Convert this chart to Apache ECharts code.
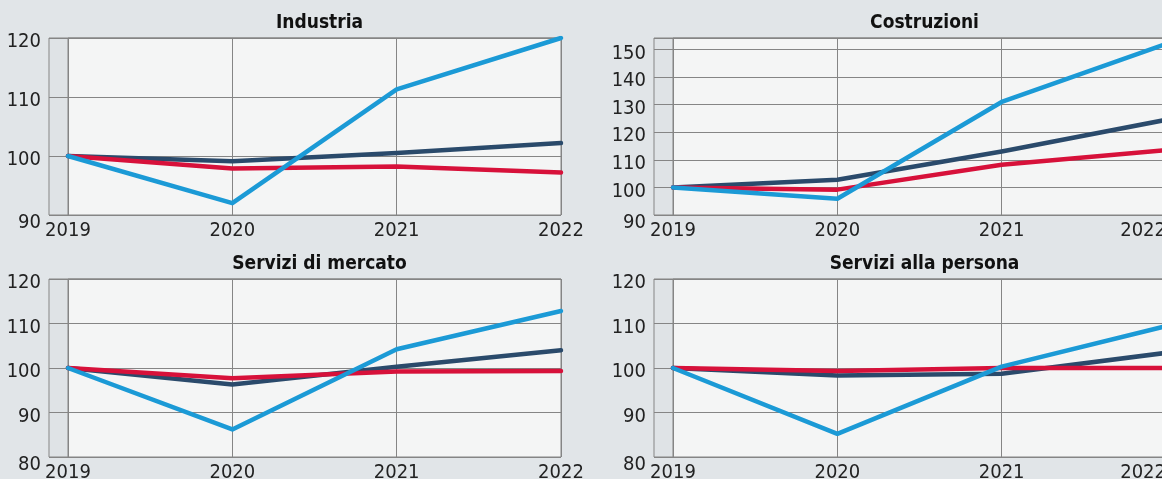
<!DOCTYPE html>
<html><head><meta charset="utf-8">
<script src="https://cdn.jsdelivr.net/npm/echarts@6/dist/echarts.min.js"></script>
<style>html,body{margin:0;padding:0;background:#e1e5e8;} #c{width:1162px;height:479px;}</style>
</head><body><div id="c"></div>
<script>
// ---- data ----
const years = ['2019', '2020', '2021', '2022'];
const titles = ['Industria', 'Costruzioni', 'Servizi di mercato', 'Servizi alla persona'];
const industriaDark = [100, 99.1, 100.5, 102.2];
const industriaRed = [100, 97.9, 98.2, 97.2];
const industriaBlue = [100, 92.0, 111.3, 120.0];
const costruzioniDark = [100, 102.8, 113.0, 124.5];
const costruzioniRed = [100, 99.2, 108.2, 113.5];
const costruzioniBlue = [100, 95.9, 131.0, 152.0];
const mercatoDark = [100, 96.3, 100.3, 104.0];
const mercatoRed = [100, 97.7, 99.2, 99.3];
const mercatoBlue = [100, 86.2, 104.2, 112.8];
const personaDark = [100, 98.3, 98.7, 103.4];
const personaRed = [100, 99.3, 100.0, 100.0];
const personaBlue = [100, 85.2, 100.3, 109.4];
const yMins = [90, 90, 80, 80];
const yMaxs = [120, 154.2, 120, 120];
const yStep = 10;

const panelData = [
  [industriaDark, industriaRed, industriaBlue],
  [costruzioniDark, costruzioniRed, costruzioniBlue],
  [mercatoDark, mercatoRed, mercatoBlue],
  [personaDark, personaRed, personaBlue]
];
const seriesNames = ['Serie 1', 'Serie 2', 'Serie 3'];
const seriesColors = ['#2a4a6b', '#d7113a', '#1b9ad6'];

// ---- layout / style ----
const FONT = "'Liberation Sans Narrow', 'DejaVu Sans Condensed', 'Roboto Condensed', sans-serif";
const layout = [
  { outerL: 49, innerL: 68, top: 38, h: 177, w: 493, titleTop: 9, right: false },
  { outerL: 654, innerL: 673, top: 38, h: 177, w: 493, titleTop: 9, right: true },
  { outerL: 49, innerL: 68, top: 279, h: 178, w: 493, titleTop: 250, right: false },
  { outerL: 654, innerL: 673, top: 279, h: 178, w: 493, titleTop: 250, right: true }
];
const GRID_C = '#858585';

const grid = [], xAxis = [], yAxis = [], series = [], title = [];
layout.forEach((L, p) => {
  const o = 2 * p, i = 2 * p + 1;
  grid.push({ left: L.outerL, top: L.top, width: L.innerL + L.w - L.outerL, height: L.h,
    outerBoundsMode: 'none', containLabel: false,
    show: true, backgroundColor: '#dfe3e6', borderColor: GRID_C, borderWidth: 1 });
  grid.push({ left: L.innerL, top: L.top, width: L.w, height: L.h,
    outerBoundsMode: 'none', containLabel: false,
    show: true, backgroundColor: '#f4f5f5', borderColor: GRID_C, borderWidth: 1 });
  xAxis.push({ gridIndex: o, type: 'value', show: false, min: 0, max: 1 });
  xAxis.push({ gridIndex: i, type: 'category', data: years, boundaryGap: false,
    axisLine: { show: false }, axisTick: { show: false },
    splitLine: { show: true, lineStyle: { color: GRID_C, width: 1 } },
    axisLabel: { color: '#222', fontFamily: FONT, fontSize: 20, margin: 6,
      alignMaxLabel: L.right ? 'right' : undefined } });
  yAxis.push({ gridIndex: o, type: 'value', min: yMins[p], max: yMaxs[p], interval: yStep,
    axisLine: { show: false }, axisTick: { show: false },
    splitLine: { show: true, lineStyle: { color: GRID_C, width: 1 } },
    axisLabel: { color: '#222', fontFamily: FONT, fontSize: 20, margin: 8,
      showMaxLabel: yMaxs[p] % yStep === 0,
      formatter: v => (v === yMins[p] ? '{lo|' + v + '}' : '{n|' + v + '}'),
      rich: {
        n: { fontFamily: FONT, fontSize: 20, color: '#222', padding: [8, 0, 0, 0] },
        lo: { fontFamily: FONT, fontSize: 20, color: '#222', padding: [16, 0, 0, 0] }
      } } });
  yAxis.push({ gridIndex: i, type: 'value', min: yMins[p], max: yMaxs[p], interval: yStep,
    axisLine: { show: false }, axisTick: { show: false }, axisLabel: { show: false },
    splitLine: { show: true, lineStyle: { color: GRID_C, width: 1 } } });
  title.push({ text: titles[p], left: L.innerL + L.w / 2, top: L.titleTop, textAlign: 'center',
    textStyle: { fontFamily: FONT, fontSize: 19, fontWeight: 'bold', color: '#111' } });
  panelData[p].forEach((d, k) => {
    series.push({ type: 'line', name: seriesNames[k], xAxisIndex: i, yAxisIndex: i, data: d,
      symbol: 'none', lineStyle: { color: seriesColors[k], width: 4.5, cap: 'round', join: 'round' },
      z: 3 + k, animation: false });
  });
});

const chart = echarts.init(document.getElementById('c'), null, { renderer: 'canvas' });
chart.setOption({ backgroundColor: '#e1e5e8', animation: false, title, grid, xAxis, yAxis, series });
</script></body></html>
